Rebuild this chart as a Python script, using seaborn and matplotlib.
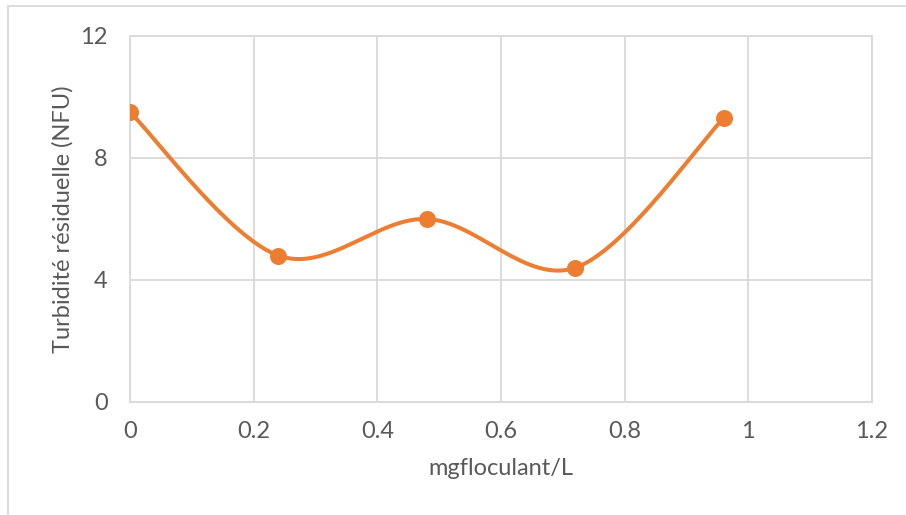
import numpy as np
import matplotlib
matplotlib.use("Agg")
import matplotlib.pyplot as plt
import seaborn as sns
import pandas as pd
from matplotlib.patches import Rectangle

# Data
dose = [0.0, 0.24, 0.48, 0.72, 0.96]
turbidity = [9.5, 4.8, 6.0, 4.4, 9.3]
x_ticks = [0, 0.2, 0.4, 0.6, 0.8, 1, 1.2]
x_tick_labels = ["0", "0.2", "0.4", "0.6", "0.8", "1", "1.2"]
y_ticks = [0, 4, 8, 12]
y_tick_labels = ["0", "4", "8", "12"]
x_label = "mgfloculant/L"
y_label = "Turbidité résiduelle (NFU)"

ORANGE = "#ED7D31"
GRID = "#D9D9D9"
TEXT = "#595959"

sns.set_theme(style="white")
plt.rcParams["font.family"] = ["Lato", "DejaVu Sans"]

df = pd.DataFrame({"dose": dose, "turb": turbidity})

W, H = 906, 515
fig = plt.figure(figsize=(W / 100, H / 100), dpi=100)
ax = fig.add_axes([130 / W, 1 - 402 / H, (872 - 130) / W, (402 - 36) / H])

# Excel-style smoothed line (Catmull-Rom Bezier through the data points)
P = np.column_stack([df["dose"].to_numpy(), df["turb"].to_numpy()])
n = len(P)
curve = []
t = np.linspace(0, 1, 60)[:, None]
for i in range(n - 1):
    p0 = P[max(i - 1, 0)]
    p1 = P[i]
    p2 = P[i + 1]
    p3 = P[min(i + 2, n - 1)]
    c1 = p1 + (p2 - p0) / 6
    c2 = p2 - (p3 - p1) / 6
    seg = ((1 - t) ** 3) * p1 + 3 * ((1 - t) ** 2) * t * c1 + 3 * (1 - t) * t ** 2 * c2 + t ** 3 * p2
    curve.append(seg if i == 0 else seg[1:])
curve = np.vstack(curve)
smooth = pd.DataFrame({"x": curve[:, 0], "y": curve[:, 1]})

sns.lineplot(data=smooth, x="x", y="y", sort=False, ax=ax, color=ORANGE,
             linewidth=2.9, estimator=None, zorder=3)
sns.scatterplot(data=df, x="dose", y="turb", ax=ax, color=ORANGE, s=150,
                edgecolor=ORANGE, linewidth=0, zorder=4)

ax.set_xlim(0, 1.2)
ax.set_ylim(0, 12)
ax.set_xticks(x_ticks)
ax.set_xticklabels(x_tick_labels)
ax.set_yticks(y_ticks)
ax.set_yticklabels(y_tick_labels)
ax.grid(True, color=GRID, linewidth=1.3)
ax.set_axisbelow(True)
for sp in ax.spines.values():
    sp.set_visible(True)
    sp.set_color(GRID)
    sp.set_linewidth(1.3)
ax.tick_params(axis="both", length=0, labelsize=17, colors=TEXT)
ax.tick_params(axis="x", pad=14)
ax.tick_params(axis="y", pad=16)
ax.set_xlabel(x_label, fontsize=17, color=TEXT, labelpad=11)
ax.set_ylabel(y_label, fontsize=17, color=TEXT, labelpad=5)

# Outer chart border (left and top edges visible)
fig.patches.append(Rectangle((8 / W, -0.1), 1.2, 1 - 6 / H + 0.1,
                             transform=fig.transFigure, fill=False,
                             edgecolor=GRID, linewidth=1.3))

fig.savefig("out.png", dpi=100)
